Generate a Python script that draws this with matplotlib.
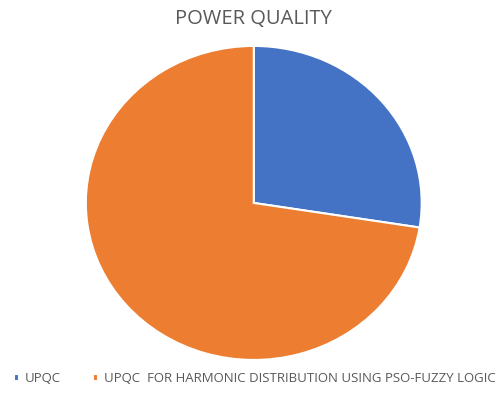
import matplotlib.pyplot as plt

# cuota de cada solución en la calidad de energía
etiquetas = ["UPQC", "UPQC  FOR HARMONIC DISTRIBUTION USING PSO-FUZZY LOGIC"]
valores = [27.5, 72.5]
colores = ["#4472C4", "#ED7D31"]

plt.rcParams['font.family'] = ['Open Sans', 'DejaVu Sans']

fig = plt.figure(figsize=(5.02, 3.96), dpi=100)
ax = fig.add_axes([0.171, 0.091, 0.669, 0.793])

cunas, _ = ax.pie(valores, colors=colores, startangle=90, counterclock=False,
                  wedgeprops=dict(edgecolor="white", linewidth=1.5))
ax.set_aspect('auto')
ax.set_xlim(-1, 1)
ax.set_ylim(-1, 1)

fig.text(0.504, 0.953, "POWER QUALITY", ha="center", va="center",
         fontsize=14.5, color="#595959")

fig.legend(cunas, etiquetas, loc="center", bbox_to_anchor=(0.508, 0.043), ncol=2,
           frameon=False, fontsize=9.5, labelcolor="#595959", handlelength=0.4,
           handleheight=0.4, handletextpad=0.45, columnspacing=2.4)

fig.savefig("out.png", dpi=100)
